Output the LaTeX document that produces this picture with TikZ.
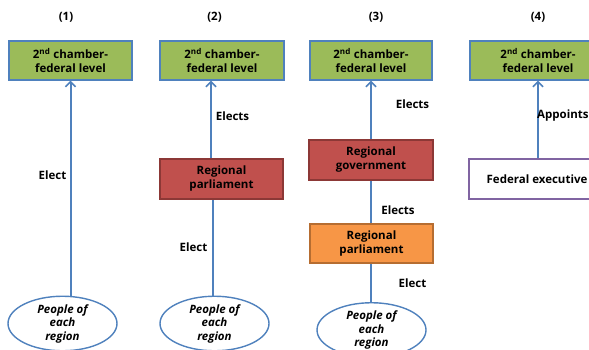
\documentclass[tikz,border=0pt]{standalone}
\usepackage{fontspec}
\setmainfont{Open Sans}
\usetikzlibrary{arrows.meta,shapes.geometric}
\definecolor{lineblue}{HTML}{4F81BD}
\definecolor{boxgreen}{HTML}{9BBB59}
\definecolor{boxred}{HTML}{C0504D}
\definecolor{redline}{HTML}{8C3836}
\definecolor{boxorange}{HTML}{F79646}
\definecolor{orangeline}{HTML}{B66D31}
\definecolor{purpleline}{HTML}{8064A2}
\tikzset{
  base/.style={font=\fontsize{11.5}{14}\selectfont\bfseries, align=center, inner sep=0pt},
  chamber/.style={base, draw=lineblue, line width=1.4pt, fill=boxgreen, minimum height=39pt},
  regred/.style={base, draw=redline, line width=1.4pt, fill=boxred, minimum width=123pt, minimum height=40pt},
  regorange/.style={base, draw=orangeline, line width=1.4pt, fill=boxorange, minimum width=123pt, minimum height=39pt},
  fedexec/.style={base, draw=purpleline, line width=1.4pt, fill=white, minimum width=136pt, minimum height=40pt},
  people/.style={base, font=\fontsize{11.5}{13.5}\selectfont\bfseries\itshape, ellipse, draw=lineblue, line width=1.4pt, fill=white, minimum width=109pt, minimum height=46pt},
  colno/.style={base},
  lbl/.style={base},
  conn/.style={draw=lineblue, line width=2pt},
  arr/.style={conn, -{Straight Barb[length=5pt,width=10pt,line width=1.6pt]}}
}
\begin{document}
\begin{tikzpicture}[x=1pt,y=-1pt]
\useasboundingbox (0,0) rectangle (589,349);

% column headings
\node[colno] (h1) at (66,17) {(1)};
\node[colno] (h2) at (214.5,17) {(2)};
\node[colno] (h3) at (376,17) {(3)};
\node[colno] (h4) at (538,17) {(4)};

% second chambers
\node[chamber, minimum width=123pt] (g1) at (70.5,60.5) {2\textsuperscript{nd} chamber-\\federal level};
\node[chamber, minimum width=124pt] (g2) at (222,60.5) {2\textsuperscript{nd} chamber-\\federal level};
\node[chamber, minimum width=122pt] (g3) at (371,60.5) {2\textsuperscript{nd} chamber-\\federal level};
\node[chamber, minimum width=136pt] (g4) at (538,60.5) {2\textsuperscript{nd} chamber-\\federal level};

% regional and federal bodies
\node[regred] (r2) at (221.5,179) {Regional\\parliament};
\node[regred, minimum width=124pt] (gov3) at (371,160) {Regional\\government};
\node[regorange] (p3) at (371.5,243.5) {Regional\\parliament};
\node[fedexec] (fx) at (537,179) {Federal executive};

% electorates
\node[people] (e1) at (62.5,323.5) {People of\\each\\region};
\node[people] (e2) at (214.5,323.5) {People of\\each\\region};
\node[people] (e3) at (371.5,330) {People of\\each\\region};

% connectors
\coordinate (c2a) at (211,0);
\coordinate (c2b) at (213,0);
\draw[arr] (e1.north -| g1.south) -- (g1.south);
\draw[arr] (r2.north -| c2a) -- (g2.south -| c2a);
\draw[conn] (e2.north -| c2b) -- (r2.south -| c2b);
\draw[arr] (gov3.north -| g3.south) -- (g3.south);
\draw[conn] (p3.north -| g3.south) -- (gov3.south -| g3.south);
\draw[conn] (e3.north -| g3.south) -- (p3.south -| g3.south);
\draw[arr] (fx.north -| g4.south) -- (g4.south);

% connector labels
\node[lbl] (l1) at (52.5,175) {Elect};
\node[lbl] (l2a) at (232.5,116) {Elects};
\node[lbl] (l2b) at (193.5,247) {Elect};
\node[lbl] (l3a) at (412.5,104) {Elects};
\node[lbl] (l3b) at (398,210) {Elects};
\node[lbl] (l3c) at (412.5,283) {Elect};
\node[lbl, anchor=west] (l4) at (537,116) {Appoints};
\end{tikzpicture}
\end{document}
